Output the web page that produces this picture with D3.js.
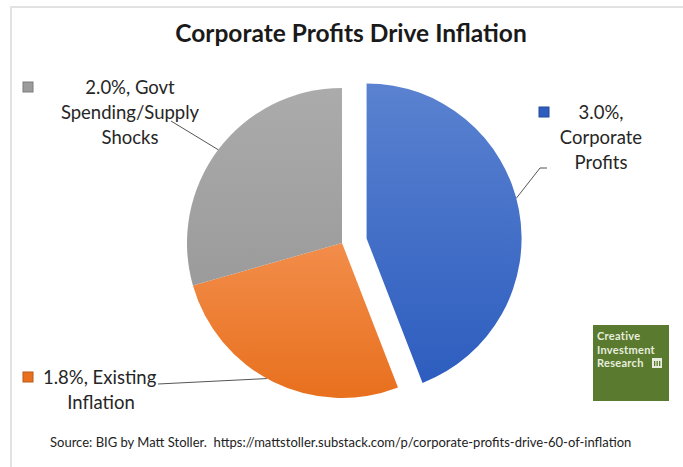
<!DOCTYPE html>
<html>
<head>
<meta charset="utf-8">
<script src="https://cdn.jsdelivr.net/npm/d3@7"></script>
<style>
  body { margin: 0; background: #fff; }
  svg { display: block; font-family: Lato, "Open Sans", sans-serif; }
</style>
</head>
<body>
<div class="canvas"></div>
<script>
// data
const categories = ['Corporate Profits', 'Existing Inflation', 'Govt Spending/Supply Shocks'];
const values = [3.0, 1.8, 2.0];
const labelLines = [
    ['3.0%,', 'Corporate', 'Profits'],
    ['1.8%, Existing', 'Inflation'],
    ['2.0%, Govt', 'Spending/Supply', 'Shocks']
];
const colors = [
    ['#5a82d0', '#2d5dbf'],
    ['#f28d4a', '#e8701e'],
    ['#ababab', '#9b9b9b']
];

const width = 683;
const height = 467;
const cx = 342, cy = 243, radius = 155;
const explode = [25, 0, 0];

const svg = d3.select('.canvas')
    .append('svg')
    .attr('width', width)
    .attr('height', height);

// frame
svg.append('path')
    .attr('d', `M11,${height} V7 H${width}`)
    .attr('fill', 'none')
    .attr('stroke', '#e2e2e2')
    .attr('stroke-width', 2);

// title
svg.append('text')
    .attr('x', 351)
    .attr('y', 42)
    .attr('text-anchor', 'middle')
    .style('font-size', '24.5px')
    .style('font-weight', 'bold')
    .style('fill', '#1a1a1a')
    .text('Corporate Profits Drive Inflation');

////////// GRADIENTS ///////////////////
const defs = svg.append('defs');
colors.forEach((c, i) => {
    const g = defs.append('linearGradient')
        .attr('id', 'grad' + i)
        .attr('x1', 0).attr('y1', 0)
        .attr('x2', 0).attr('y2', 1);
    g.append('stop').attr('offset', '0%').attr('stop-color', c[0]);
    g.append('stop').attr('offset', '100%').attr('stop-color', c[1]);
});

////////// PIE ///////////////////
const pie = d3.pie().sort(null).value(d => d)(values);
const arc = d3.arc().innerRadius(0).outerRadius(radius);

const offsetOf = (d, i) => {
    const mid = (d.startAngle + d.endAngle) / 2;
    return [explode[i] * Math.sin(mid), -explode[i] * Math.cos(mid)];
};

const graph = svg.append('g').attr('transform', `translate(${cx}, ${cy})`);

graph.selectAll('path.slice')
    .data(pie)
    .enter()
    .append('path')
    .attr('class', 'slice')
    .attr('d', arc)
    .attr('transform', (d, i) => {
        const o = offsetOf(d, i);
        return `translate(${o[0]}, ${o[1]})`;
    })
    .attr('fill', (d, i) => `url(#grad${i})`);

////////// LABELS ///////////////////
// label layout: legend square, text lines, leader line
const labelLayout = [
    {sq: [539, 107], tx: 601, ty: 119, anchor: 'middle', attach: 75, bend: [[547, 168], [540, 168]]},
    {sq: [23, 372], tx: 43, ty: 384, anchor: 'start', attach: 209, bend: [[158, 384]], line2x: 101},
    {sq: [23, 82], tx: 130, ty: 94, anchor: 'middle', attach: 307, bend: [[171, 121]]}
];
const lineH = 25;

pie.forEach((d, i) => {
    const L = labelLayout[i];
    const o = offsetOf(d, i);
    const a = L.attach * Math.PI / 180;
    const edge = [cx + o[0] + radius * Math.sin(a), cy + o[1] - radius * Math.cos(a)];
    const pts = L.bend.concat([edge]);

    svg.append('path')
        .attr('d', d3.line()(pts))
        .attr('fill', 'none')
        .attr('stroke', '#555')
        .attr('stroke-width', 1);

    svg.append('rect')
        .attr('x', L.sq[0])
        .attr('y', L.sq[1])
        .attr('width', 10)
        .attr('height', 10)
        .attr('fill', colors[i][1])
        .attr('stroke', d3.color(colors[i][1]).darker(0.6))
        .attr('stroke-width', 1);

    labelLines[i].forEach((t, j) => {
        let x = L.tx, anchor = L.anchor;
        if (L.line2x && j > 0) { x = L.line2x; anchor = 'middle'; }
        svg.append('text')
            .attr('x', x)
            .attr('y', L.ty + j * lineH)
            .attr('text-anchor', anchor)
            .style('font-size', '18.5px')
            .style('fill', '#262626')
            .text(t);
    });
});

////////// LOGO ///////////////////
const logo = svg.append('g').attr('transform', 'translate(593, 325)');
logo.append('rect')
    .attr('width', 76)
    .attr('height', 76)
    .attr('fill', '#5a7a2f');
['Creative', 'Investment', 'Research'].forEach((t, j) => {
    logo.append('text')
        .attr('x', 4)
        .attr('y', 15 + j * 13.5)
        .style('font-size', '11px')
        .style('font-weight', 'bold')
        .style('fill', '#e8eedf')
        .style('letter-spacing', '0.3px')
        .text(t);
});
// small building icon
const icon = logo.append('g').attr('transform', 'translate(59, 33)');
icon.append('rect').attr('width', 10).attr('height', 10).attr('fill', '#e8eedf');
[2, 4.5, 7].forEach(px => {
    icon.append('rect').attr('x', px).attr('y', 3).attr('width', 1.3).attr('height', 5).attr('fill', '#5a7a2f');
});

////////// SOURCE ///////////////////
svg.append('text')
    .attr('x', 50)
    .attr('y', 447)
    .attr('xml:space', 'preserve')
    .style('white-space', 'pre')
    .style('font-size', '13px')
    .style('fill', '#222')
    .text('Source: BIG by Matt Stoller.  https://mattstoller.substack.com/p/corporate-profits-drive-60-of-inflation');
</script>
</body>
</html>
